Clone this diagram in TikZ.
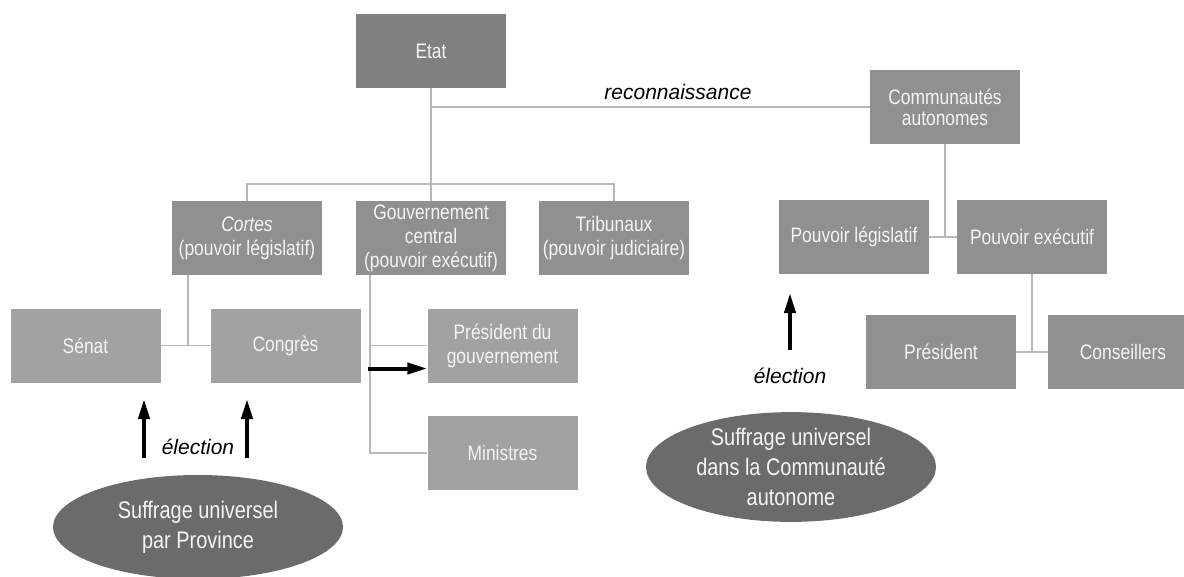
\documentclass[tikz,border=0pt]{standalone}
\usepackage{fontspec}
\setmainfont{Liberation Sans}[FakeStretch=0.83]
\newfontfamily\labelfont{Liberation Sans}
\usetikzlibrary{arrows.meta, shapes.geometric}

\definecolor{boxdark}{HTML}{808080}
\definecolor{boxmid}{HTML}{909090}
\definecolor{boxlight}{HTML}{A2A2A2}
\definecolor{ovalgray}{HTML}{6B6B6B}
\definecolor{linkgray}{HTML}{B8B8B8}
\definecolor{boxtext}{HTML}{F4F4F4}

\tikzset{
  organ/.style={rectangle, fill=boxmid, text=boxtext, minimum width=150pt,
    minimum height=74pt, inner sep=1pt, align=center,
    font=\fontsize{21}{24}\selectfont},
  organlight/.style={organ, fill=boxlight},
  voters/.style={ellipse, fill=ovalgray, text=boxtext, minimum width=290pt,
    minimum height=104pt, inner sep=0pt, align=center,
    font=\fontsize{24}{30}\selectfont},
  link/.style={draw=linkgray, line width=1.6pt},
  vote/.style={-{Triangle[length=20pt,width=11pt]}, line width=4pt},
  tag/.style={font=\labelfont\itshape\fontsize{21}{24}\selectfont}
}

\begin{document}
\begin{tikzpicture}[x=1pt, y=-1pt]
    % Page frame
    \useasboundingbox (0,0) rectangle (1184,576);
    \clip (0,0) rectangle (1184,576);
    \fill[white] (0,0) rectangle (1184,576);

    % State side
    \node[organ, fill=boxdark] (etat) at (431,51) {Etat};
    \node[organ] (cortes) at (247,238) {\textit{Cortes}\\(pouvoir législatif)};
    \node[organ] (gouv) at (431,238) {Gouvernement\\central\\(pouvoir exécutif)};
    \node[organ] (tribunaux) at (614,238) {Tribunaux\\(pouvoir judiciaire)};
    \node[organlight] (senat) at (85.5,345.5) {Sénat};
    \node[organlight] (congres) at (285.5,345.5) {Congrès};
    \node[organlight] (presgouv) at (502.5,345.5) {Président du\\gouvernement};
    \node[organlight] (ministres) at (502.5,453) {Ministres};
    \node[voters] (province) at (198,527) {Suffrage universel\\par Province};

    % Regional side
    \node[organ] (ccaa) at (945,107) {Communautés\\[-3pt]autonomes};
    \node[organ] (leg) at (854,237) {Pouvoir législatif};
    \node[organ] (exec) at (1032,237) {Pouvoir exécutif};
    \node[organ] (president) at (941,352) {Président};
    \node[organ] (conseillers) at (1123,352) {Conseillers};
    \node[voters] (region) at (791,467) {Suffrage universel\\dans la Communauté\\autonome};

    % Join points of the tree
    \coordinate (bar) at (431,184);
    \coordinate (rec) at (431,107);
    \coordinate (cortesjoin) at (188,346);
    \coordinate (govjoin) at (370,453);
    \coordinate (ccaajoin) at (945,237);
    \coordinate (execjoin) at (1032,352);

    % Grey links
    \draw[link] (etat) -- (gouv);
    \draw[link] (cortes.north) |- (bar) -| (tribunaux.north);
    \draw[link] (rec) -- (ccaa.west);
    \draw[link] (senat) -- (congres);
    \draw[link] (cortes.south -| cortesjoin) -- (cortesjoin);
    \draw[link] (gouv.south -| govjoin) -- (govjoin) -- (ministres.west);
    \draw[link] (presgouv.west -| govjoin) -- (presgouv.west);
    \draw[link] (ccaa) -- (ccaajoin);
    \draw[link] (leg) -- (exec);
    \draw[link] (exec) -- (execjoin);
    \draw[link] (president) -- (conseillers);

    % Black arrows
    \coordinate (senatfrom) at (144,458);
    \coordinate (senatto) at (144,399);
    \coordinate (congresfrom) at (247,458);
    \coordinate (congresto) at (247,399);
    \coordinate (legfrom) at (790,350);
    \coordinate (legto) at (790,293);
    \draw[vote] (senatfrom) -- (senatto);
    \draw[vote] (congresfrom) -- (congresto);
    \draw[vote] (legfrom) -- (legto);
    \draw[vote] ([xshift=7pt,yshift=-23pt]congres.east) -- ([yshift=-23pt]presgouv.west);

    % Labels
    \node[tag] (recognition) at (678,92) {reconnaissance};
    \node[tag] (electionleft) at (198,447) {élection};
    \node[tag] (electionright) at (790,376) {élection};
\end{tikzpicture}
\end{document}
